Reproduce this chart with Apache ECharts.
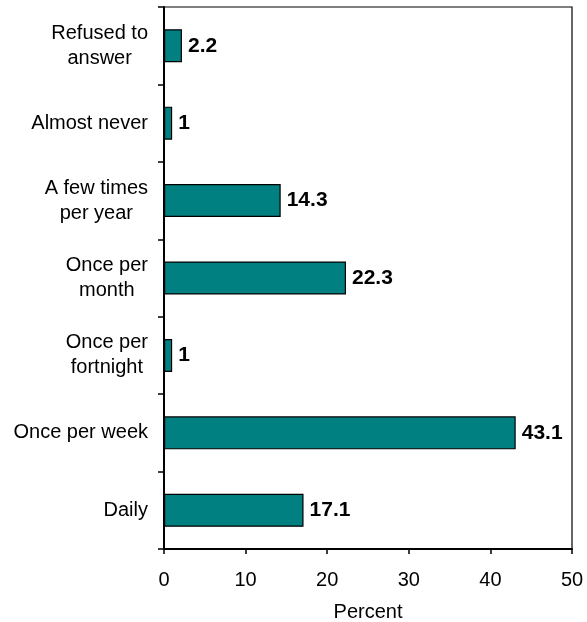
<!DOCTYPE html>
<html>
<head>
<meta charset="utf-8">
<style>
  html, body { margin: 0; padding: 0; background: #fff; }
  #chart { width: 587px; height: 622px; }
</style>
<script src="https://cdn.jsdelivr.net/npm/echarts@6/dist/echarts.min.js"></script>
</head>
<body>
<div id="chart"></div>
<script>
// Frequency categories, listed bottom to top
const categories = [
  'Daily',
  'Once per week',
  'Once per\nfortnight',
  'Once per\nmonth',
  'A few times\nper year',
  'Almost never',
  'Refused to\nanswer'
];
const percentValues = [17.1, 43.1, 1, 22.3, 14.3, 1, 2.2];
const xTicks = [0, 10, 20, 30, 40, 50];
const axisTitle = 'Percent';

const chart = echarts.init(document.getElementById('chart'), null, { renderer: 'canvas' });

const baseFont = 'Arial, "Liberation Sans", Helvetica, sans-serif';

chart.setOption({
  animation: false,
  backgroundColor: '#ffffff',
  textStyle: { fontFamily: baseFont, color: '#000' },
  grid: {
    left: 164,
    top: 7,
    right: 15,
    bottom: 73,
    outerBoundsMode: 'none',
    containLabel: false,
    show: true,
    borderColor: '#000',
    borderWidth: 1.2,
    backgroundColor: 'transparent'
  },
  xAxis: {
    type: 'value',
    min: xTicks[0],
    max: xTicks[xTicks.length - 1],
    interval: xTicks[1] - xTicks[0],
    name: axisTitle,
    nameLocation: 'middle',
    nameGap: 53,
    nameTextStyle: { fontSize: 20, color: '#000', fontFamily: baseFont },
    axisLine: { show: true, lineStyle: { color: '#000', width: 2 } },
    axisTick: { show: true, length: 5, lineStyle: { color: '#000', width: 1.5 } },
    axisLabel: { fontSize: 20, color: '#000', margin: 21, fontFamily: baseFont },
    splitLine: { show: false }
  },
  yAxis: {
    type: 'category',
    data: categories,
    axisLine: { show: true, lineStyle: { color: '#000', width: 2 } },
    axisTick: { show: true, length: 6, lineStyle: { color: '#000', width: 1.5 } },
    axisLabel: {
      fontSize: 20,
      lineHeight: 25,
      color: '#000',
      margin: 16,
      align: 'right',
      fontFamily: baseFont,
      // each line is centred inside its label block; the block sits right-aligned
      formatter: function (value) {
        return value.split('\n').map(function (line) { return '{c|' + line + '}'; }).join('\n');
      },
      rich: {
        c: {
          align: 'center',
          fontSize: 20,
          lineHeight: 25,
          color: '#000',
          fontFamily: baseFont
        }
      }
    },
    splitLine: { show: false }
  },
  series: [{
    type: 'bar',
    data: percentValues,
    barWidth: 33,
    itemStyle: { color: '#008080', borderColor: '#000', borderWidth: 1.2 },
    label: {
      show: true,
      position: 'right',
      distance: 6,
      color: '#000',
      fontSize: 21,
      fontWeight: 'bold',
      fontFamily: baseFont
    }
  }]
});
</script>
</body>
</html>
